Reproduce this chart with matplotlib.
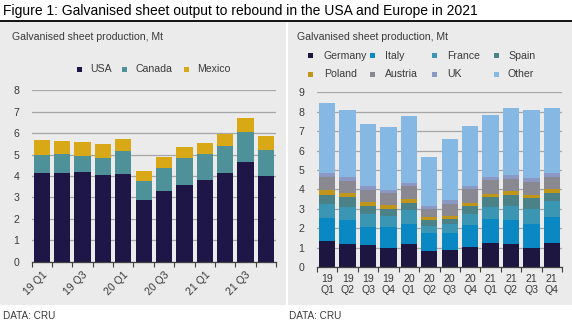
import matplotlib
matplotlib.use("Agg")
import matplotlib.pyplot as plt
from matplotlib.patches import Rectangle
from matplotlib.lines import Line2D
import numpy as np

plt.rcParams['font.family'] = ['Liberation Sans', 'DejaVu Sans']

# ---------------- data ----------------
quarters = ["19 Q1", "19 Q2", "19 Q3", "19 Q4", "20 Q1", "20 Q2",
            "20 Q3", "20 Q4", "21 Q1", "21 Q2", "21 Q3", "21 Q4"]

# left chart (Mt)
usa    = [4.12, 4.12, 4.17, 4.03, 4.08, 2.88, 3.30, 3.56, 3.81, 4.12, 4.65, 4.00]
canada = [0.85, 0.91, 0.75, 0.79, 1.07, 0.89, 1.06, 1.26, 1.22, 1.28, 1.40, 1.21]
mexico = [0.70, 0.59, 0.65, 0.67, 0.56, 0.46, 0.53, 0.52, 0.50, 0.58, 0.66, 0.64]

# right chart (Mt)
germany = [1.34, 1.18, 1.13, 0.98, 1.18, 0.83, 0.88, 1.03, 1.24, 1.18, 0.98, 1.24]
italy   = [1.18, 1.24, 0.93, 1.08, 1.03, 0.92, 0.87, 1.13, 1.23, 1.24, 1.23, 1.34]
france  = [0.72, 0.67, 0.67, 0.57, 0.73, 0.38, 0.46, 0.57, 0.62, 0.72, 0.78, 0.82]
spain   = [0.47, 0.52, 0.41, 0.36, 0.36, 0.29, 0.28, 0.41, 0.52, 0.57, 0.56, 0.41]
poland  = [0.26, 0.20, 0.22, 0.20, 0.22, 0.16, 0.15, 0.16, 0.15, 0.20, 0.16, 0.21]
austria = [0.65, 0.64, 0.61, 0.60, 0.65, 0.42, 0.60, 0.72, 0.72, 0.62, 0.67, 0.62]
uk      = [0.20, 0.19, 0.20, 0.18, 0.16, 0.14, 0.21, 0.15, 0.16, 0.21, 0.20, 0.20]
other   = [3.63, 3.45, 3.19, 3.24, 3.45, 2.53, 3.14, 3.09, 3.19, 3.45, 3.51, 3.35]

left_series = [("USA", usa, "#1e1646"), ("Canada", canada, "#4e9198"),
               ("Mexico", mexico, "#d8a817")]
right_series = [("Germany", germany, "#1c1640"), ("Italy", italy, "#0a88c4"),
                ("France", france, "#3a96b2"), ("Spain", spain, "#4a8288"),
                ("Poland", poland, "#c0961a"), ("Austria", austria, "#8a8890"),
                ("UK", uk, "#8c98c4"), ("Other", other, "#86b8e4")]

title = "Figure 1: Galvanised sheet output to rebound in the USA and Europe in 2021"
subtitle = "Galvanised sheet production, Mt"
source = "DATA: CRU"

# ---------------- layout helpers ----------------
W, H = 572, 321
fig = plt.figure(figsize=(W / 100, H / 100), dpi=100)
fig.patch.set_facecolor("white")

def fx(px):
    return px / W

def fy(py):
    return 1 - py / H

def axes_px(x0, x1, ytop, ybot):
    return [fx(x0), fy(ybot), fx(x1) - fx(x0), fy(ytop) - fy(ybot)]

BG = "#ebebeb"
TXT = "#3a3a3a"
GRID = "#a6a6a6"

# panel backgrounds
fig.add_artist(Rectangle((fx(0), fy(305)), fx(285.5), fy(21.5) - fy(305),
                         transform=fig.transFigure, facecolor=BG, edgecolor="none", zorder=0))
fig.add_artist(Rectangle((fx(288), fy(305)), fx(572) - fx(288), fy(21.5) - fy(305),
                         transform=fig.transFigure, facecolor=BG, edgecolor="none", zorder=0))
# title rule
fig.add_artist(Line2D([0, 1], [fy(20.6), fy(20.6)], transform=fig.transFigure,
                      color="black", lw=1.3))

fig.text(fx(3), fy(11.5), title, fontsize=10.0, color="black", va="center", ha="left")
fig.text(fx(12), fy(37.5), subtitle, fontsize=7.6, color=TXT, va="center", ha="left")
fig.text(fx(297), fy(37.5), subtitle, fontsize=7.6, color=TXT, va="center", ha="left")
fig.text(fx(3), fy(316), source, fontsize=7.2, color=TXT, va="center", ha="left")
fig.text(fx(289), fy(316), source, fontsize=7.2, color=TXT, va="center", ha="left")

def legend_item(xm, xt, y, label, color):
    s = 5
    fig.add_artist(Rectangle((fx(xm - s / 2), fy(y + s / 2)), s / W, s / H,
                             transform=fig.transFigure, facecolor=color, edgecolor="none"))
    fig.text(fx(xt), fy(y), label, fontsize=7.6, color=TXT, va="center", ha="left")

# left legend
for (lab, _, col), xm, xt in zip(left_series, [79, 124, 186], [90.5, 136, 197]):
    legend_item(xm, xt, 69, lab, col)

# right legend
mx = [310.7, 372.7, 434, 496]
tx = [324, 385, 447, 508]
for i, (lab, _, col) in enumerate(right_series):
    r, c = divmod(i, 4)
    legend_item(mx[c], tx[c], [55.7, 74.3][r], lab, col)

def style_axes(ax, ymax):
    ax.set_facecolor("none")
    for s in ["left", "right", "top"]:
        ax.spines[s].set_visible(False)
    ax.spines["bottom"].set_color("#404040")
    ax.spines["bottom"].set_linewidth(0.9)
    ax.set_ylim(0, ymax)
    ax.set_xlim(-0.5, len(quarters) - 0.5)
    ax.set_yticks(np.arange(0, ymax + 1, 1))
    ax.yaxis.grid(True, color=GRID, lw=0.9)
    ax.set_axisbelow(True)
    ax.tick_params(axis="y", length=0, labelsize=7.6, labelcolor=TXT, pad=9)
    # boundaries ticks (major), labels on minor
    ax.set_xticks(np.arange(-0.5, len(quarters), 1))
    ax.set_xticklabels([])
    ax.tick_params(axis="x", which="major", length=3.5, width=0.8, color="#404040", direction="out")
    ax.set_xticks(np.arange(len(quarters)), minor=True)
    ax.tick_params(axis="x", which="minor", length=0, labelsize=7.6, labelcolor=TXT)

x = np.arange(len(quarters))

# ---------------- left chart ----------------
axL = fig.add_axes(axes_px(31.7, 276, 90.3, 261.7))
style_axes(axL, 8)
bottom = np.zeros(len(quarters))
for lab, vals, col in left_series:
    axL.bar(x, vals, width=0.8, bottom=bottom, color=col, edgecolor="none", zorder=2)
    bottom += np.array(vals)
axL.set_xticklabels([q if i % 2 == 0 else "" for i, q in enumerate(quarters)], minor=True,
                    rotation=45, ha="right", va="top", rotation_mode="anchor")
axL.tick_params(axis="x", which="minor", pad=6)

# ---------------- right chart ----------------
axR = fig.add_axes(axes_px(317, 562, 92.3, 267.1))
style_axes(axR, 9)
bottom = np.zeros(len(quarters))
for lab, vals, col in right_series:
    axR.bar(x, vals, width=0.8, bottom=bottom, color=col, edgecolor="none", zorder=2)
    bottom += np.array(vals)
axR.set_xticklabels([q.replace(" ", "\n") for q in quarters], minor=True, linespacing=1.1)
axR.tick_params(axis="x", which="minor", pad=5)

fig.savefig("out.png", dpi=100, facecolor="white")
